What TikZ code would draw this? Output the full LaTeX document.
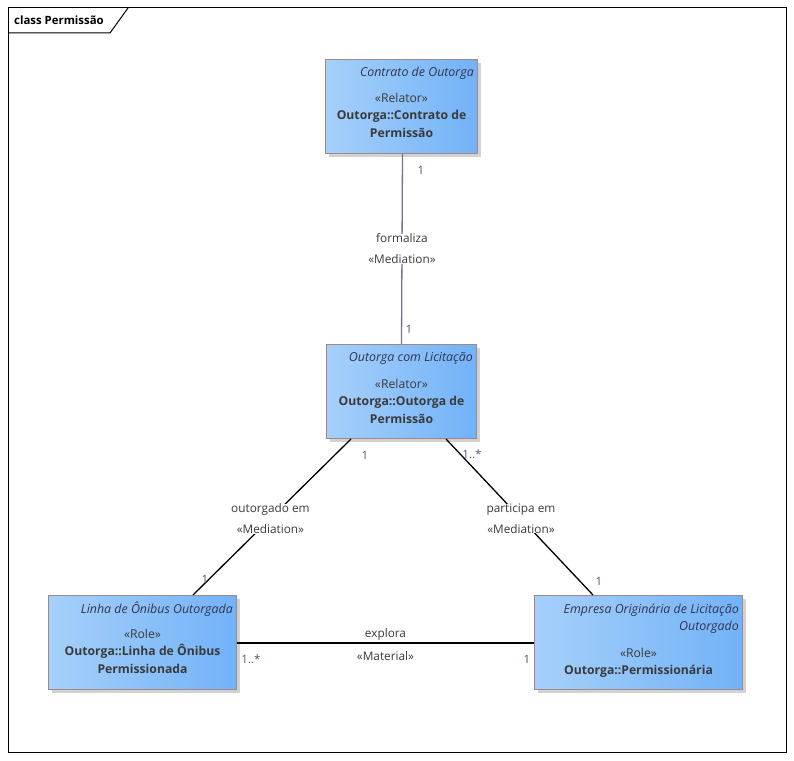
\documentclass[tikz,border=0pt]{standalone}
\usepackage{fontspec}
\setmainfont{Open Sans}
\usepackage{tikz}
\usetikzlibrary{positioning,shadows}
\definecolor{colFill}{HTML}{A6D0FA}
\definecolor{colFillR}{HTML}{72B2F8}
\definecolor{colEdge}{HTML}{A08888}
\definecolor{colTxt}{HTML}{3A3A3A}
\definecolor{colMult}{HTML}{4A5A78}
\definecolor{colVert}{HTML}{7A7090}

\begin{document}
\begin{tikzpicture}[x=1pt, y=-1pt,
  cls/.style={draw=colEdge, line width=1pt, left color=colFill, right color=colFillR,
              minimum height=94pt, anchor=north west, inner sep=0pt,
              drop shadow={shadow xshift=3pt, shadow yshift=-3pt, fill=gray!35, opacity=1}},
  ttl/.style={font=\fontsize{12.4}{17}\selectfont\itshape, text=colTxt!90!blue,
              anchor=north east, inner sep=0pt, align=right},
  body/.style={font=\fontsize{12.2}{17.5}\selectfont, text=colTxt, anchor=north,
               inner sep=0pt, align=center},
  assoc/.style={line width=1.3pt, black},
  lbl/.style={font=\fontsize{11.8}{14}\selectfont, text=colTxt, inner sep=0pt, fill=white},
  mult/.style={font=\fontsize{11.5}{13}\selectfont, text=colMult, inner sep=0pt}
]
  \useasboundingbox (0,0) rectangle (794,760);
  \fill[white] (0,0) rectangle (794,760);

  % frame
  \draw[line width=1pt] (8,8) rectangle (786,752);
  \draw[line width=1pt] (8,33) -- (110,33) -- (128,8);
  \node[font=\fontsize{11.4}{13}\selectfont\bfseries, anchor=west, inner sep=0pt] (frm) at (14,20) {class Permissão};

  % classes
  \node[cls, minimum width=152pt] (cont) at (325,59) {};
  \node[ttl] (contT) at ([xshift=-4pt, yshift=-8pt]cont.north east) {Contrato de Outorga};
  \node[body] (contB) at ([yshift=-34pt]cont.north)
    {«Relator»\\\textbf{Outorga::Contrato de}\\\textbf{Permissão}};

  \node[cls, minimum width=150pt] (licit) at (326,344) {};
  \node[ttl] (licitT) at ([xshift=-4pt, yshift=-8pt]licit.north east) {Outorga com Licitação};
  \node[body] (licitB) at ([yshift=-35pt]licit.north)
    {«Relator»\\\textbf{Outorga::Outorga de}\\\textbf{Permissão}};

  \node[cls, minimum width=188pt] (linha) at (48,595) {};
  \node[ttl] (linhaT) at ([xshift=-4pt, yshift=-7pt]linha.north east) {Linha de Ônibus Outorgada};
  \node[body] (linhaB) at ([yshift=-34pt]linha.north)
    {«Role»\\\textbf{Outorga::Linha de Ônibus}\\\textbf{Permissionada}};

  \node[cls, minimum width=208pt] (empr) at (534,595) {};
  \node[ttl] (emprT) at ([xshift=-4pt, yshift=-9pt]empr.north east)
    {Empresa Originária de Licitação\\Outorgado};
  \node[body] (emprB) at ([yshift=-53pt]empr.north)
    {«Role»\\\textbf{Outorga::Permissionária}};

  % associations
  \draw[line width=1.3pt, colVert] ([xshift=1pt]cont.south) -- ([xshift=0pt]licit.south |- licit.north)
    node[pos=0.5, lbl, align=center] (formA) {formaliza\\[7pt]«Mediation»};
  \draw[assoc] ([xshift=25pt]licit.south west) -- ([xshift=145pt]linha.north west)
    node[pos=0.51, lbl, align=center] (outA) {outorgado em\\[7pt]«Mediation»};
  \draw[assoc] ([xshift=-31pt]licit.south east) -- ([xshift=59pt]empr.north west)
    node[pos=0.51, lbl, align=center] (partA) {participa em\\[7pt]«Mediation»};
  \draw[assoc] ([yshift=-48pt]linha.north east) -- ([yshift=-48pt]empr.north west)
    node[midway, above=2pt, lbl] (explA) {explora}
    node[midway, below=8pt, lbl] (matA) {«Material»};

  % multiplicities
  \node[mult] (m1) at (421,170) {1};
  \node[mult] (m2) at (409,329) {1};
  \node[mult] (m3) at (365,455) {1};
  \node[mult] (m4) at (472,454) {1..*};
  \node[mult] (m5) at (205,579) {1};
  \node[mult] (m6) at (599,581) {1};
  \node[mult] (m7) at (251,659) {1..*};
  \node[mult] (m8) at (527,659) {1};
\end{tikzpicture}
\end{document}
